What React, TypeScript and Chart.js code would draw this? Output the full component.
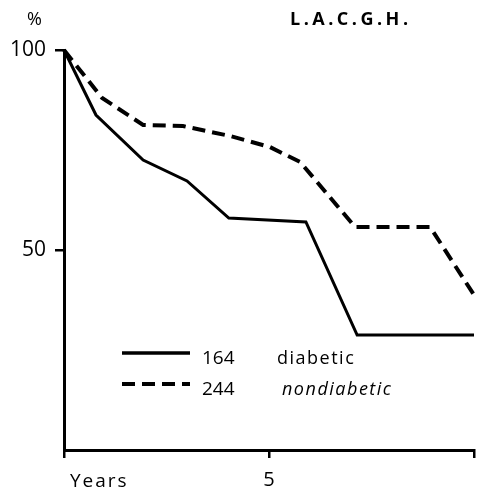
import React, { useEffect, useRef } from "react";
import { Chart, registerables } from "chart.js";

Chart.register(...registerables);

// Survival curves (percent surviving vs. years)
const yearsDiabetic = [0, 0.78, 1.93, 3.0, 4.02, 5.9, 7.15, 10];
const pctDiabetic = [100, 83.75, 72.5, 67.25, 58, 57, 28.75, 28.75];
const yearsNondiabetic = [0, 0.93, 1.93, 2.9, 4.05, 5.02, 5.76, 7.1, 8.93, 10];
const pctNondiabetic = [100, 88, 81.25, 81, 78.5, 75.75, 72, 55.75, 55.75, 38.75];

const seriesNames = ["diabetic", "nondiabetic"];
const seriesCounts = ["164", "244"];
const yTickValues = [50, 100];
const xTickValues = [0, 5, 10];
const xTickLabels = ["", "5", ""];
const xAxisLabel = "Years";
const yAxisUnit = "%";
const chartTitle = "L.A.C.G.H.";

const FONT = '"Open Sans", "DejaVu Sans", sans-serif';

const textPlugin = {
  id: "textPlugin",
  afterDraw(chart: any) {
    const ctx = chart.ctx as CanvasRenderingContext2D;
    const area = chart.chartArea;
    ctx.save();
    ctx.fillStyle = "#000";
    ctx.strokeStyle = "#000";
    ctx.textBaseline = "alphabetic";
    ctx.textAlign = "left";
    // unit and title
    ctx.font = `18px ${FONT}`;
    (ctx as any).letterSpacing = "0px";
    ctx.fillText(yAxisUnit, 27, 25);
    ctx.font = `bold 18px ${FONT}`;
    (ctx as any).letterSpacing = "3.5px";
    ctx.fillText(chartTitle, 290, 25);
    // x axis label
    ctx.font = `19px ${FONT}`;
    (ctx as any).letterSpacing = "2px";
    ctx.fillText(xAxisLabel, area.left + 6, 487);

    // legend
    const rows = [
      { y: 353, dash: [] as number[], width: 3.5, italic: false, nameX: 277 },
      { y: 384, dash: [13, 7], width: 4, italic: true, nameX: 282 },
    ];
    rows.forEach((r, i) => {
      ctx.beginPath();
      ctx.setLineDash(r.dash);
      ctx.lineWidth = r.width;
      ctx.moveTo(122, r.y);
      ctx.lineTo(190, r.y);
      ctx.stroke();
      ctx.setLineDash([]);
      ctx.font = `19px ${FONT}`;
      (ctx as any).letterSpacing = "0px";
      ctx.fillText(seriesCounts[i], 202, r.y + 11);
      ctx.font = `${r.italic ? "italic " : ""}18px ${FONT}`;
      (ctx as any).letterSpacing = "1.5px";
      ctx.fillText(seriesNames[i], r.nameX, r.y + 11);
    });
    ctx.restore();
  },
};

export default function App() {
  const canvasRef = useRef<HTMLCanvasElement | null>(null);

  useEffect(() => {
    const canvas = canvasRef.current;
    if (!canvas) return;
    const chart = new Chart(canvas, {
      type: "line",
      data: {
        datasets: [
          {
            label: seriesNames[0],
            data: yearsDiabetic.map((x, i) => ({ x, y: pctDiabetic[i] })),
            borderColor: "#000",
            borderWidth: 3,
            pointRadius: 0,
            tension: 0,
            fill: false,
            clip: false as any,
          },
          {
            label: seriesNames[1],
            data: yearsNondiabetic.map((x, i) => ({ x, y: pctNondiabetic[i] })),
            borderColor: "#000",
            borderWidth: 4,
            borderDash: [13, 7],
            pointRadius: 0,
            tension: 0,
            fill: false,
            clip: false as any,
          },
        ],
      },
      options: {
        responsive: false,
        animation: false,
        layout: { padding: { top: 50, right: 14, left: 0, bottom: 0 } },
        plugins: {
          legend: { display: false },
          tooltip: { enabled: false },
        },
        scales: {
          x: {
            type: "linear",
            min: 0,
            max: 10,
            afterFit: (s: any) => {
              s.height = 40;
            },
            afterBuildTicks: (s: any) => {
              s.ticks = xTickValues.map((v) => ({ value: v }));
            },
            ticks: {
              color: "#000",
              font: { family: FONT, size: 20 },
              padding: 10,
              maxRotation: 0,
              callback: (v: any) => {
                const idx = xTickValues.indexOf(Number(v));
                return idx >= 0 ? xTickLabels[idx] : "";
              },
            },
            grid: {
              display: true,
              drawOnChartArea: false,
              drawTicks: true,
              tickLength: 8,
              color: "#000",
              lineWidth: 2.5,
            },
            border: { display: true, color: "#000", width: 3 },
          },
          y: {
            type: "linear",
            min: 0,
            max: 100,
            afterFit: (s: any) => {
              s.width = 64;
            },
            afterBuildTicks: (s: any) => {
              s.ticks = yTickValues.map((v) => ({ value: v }));
            },
            ticks: {
              color: "#000",
              font: { family: FONT, size: 21 },
              padding: 9,
            },
            grid: {
              display: true,
              drawOnChartArea: false,
              drawTicks: true,
              tickLength: 9,
              color: "#000",
              lineWidth: 2.5,
            },
            border: { display: true, color: "#000", width: 3 },
          },
        },
      },
      plugins: [textPlugin],
    });
    return () => chart.destroy();
  }, []);

  return (
    <div style={{ position: "fixed", left: 0, top: 0, width: 488, height: 490, background: "#fff" }}>
      <canvas ref={canvasRef} width={488} height={490} />
    </div>
  );
}
